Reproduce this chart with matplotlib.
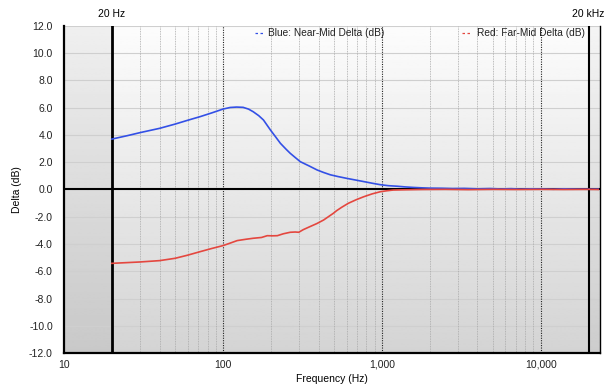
import numpy as np
import matplotlib.pyplot as plt
from matplotlib.lines import Line2D

freq_blue = [20, 25, 30, 40, 50, 60, 72, 85, 100, 111, 122, 134, 145, 155, 168,
             180, 199, 215, 230, 250, 265, 285, 307, 350, 392, 430, 474, 530, 600,
             680, 770, 870, 981, 1100, 1250, 1400, 1590, 1800, 2000, 2400, 2800,
             3300, 4000, 4800, 5600, 6500, 7500, 8700, 10000, 12000, 14000, 17000,
             20000, 23000]
delta_blue = [3.70, 3.95, 4.17, 4.49, 4.80, 5.08, 5.35, 5.62, 5.90, 6.02, 6.05, 6.03,
              5.90, 5.71, 5.42, 5.10, 4.37, 3.85, 3.39, 2.95, 2.66, 2.35, 2.04, 1.72,
              1.43, 1.25, 1.08, 0.95, 0.82, 0.70, 0.58, 0.46, 0.35, 0.28, 0.24, 0.19,
              0.15, 0.12, 0.10, 0.09, 0.07, 0.08, 0.05, 0.07, 0.04, 0.06, 0.03, 0.05,
              0.04, 0.02, 0.05, 0.03, 0.02, 0.03]

freq_red = [20, 30, 40, 50, 60, 72, 85, 100, 112, 123, 140, 155, 175, 190, 205,
            220, 240, 265, 285, 300, 320, 346, 390, 430, 495, 520, 560, 616, 690,
            770, 870, 981, 1080, 1180, 1400, 1800, 2500, 3500, 5000, 7000, 10000,
            14000, 20000, 23000]
delta_red = [-5.42, -5.32, -5.22, -5.05, -4.82, -4.56, -4.33, -4.12, -3.92, -3.75,
             -3.65, -3.58, -3.52, -3.39, -3.40, -3.39, -3.25, -3.14, -3.12, -3.14,
             -2.95, -2.77, -2.50, -2.24, -1.75, -1.55, -1.30, -1.01, -0.75, -0.53,
             -0.32, -0.16, -0.09, -0.04, -0.02, 0.0, 0.01, -0.01, 0.01, 0.0, 0.01,
             0.0, 0.01, 0.0]

y_ticks = [-12, -10, -8, -6, -4, -2, 0, 2, 4, 6, 8, 10, 12]
x_ticks = [10, 100, 1000, 10000]
x_tick_labels = ["10", "100", "1,000", "10,000"]

BLUE = "#3350e6"
RED = "#e4473f"

plt.rcParams["font.family"] = ["Liberation Sans", "DejaVu Sans"]

fig = plt.figure(figsize=(6.09, 3.88), dpi=100)
ax = fig.add_axes([0.1051, 0.0902, 0.8801, 0.8428])

ax.set_xscale("log")
ax.set_xlim(10, 23600)
ax.set_ylim(-12, 12)

# vertical gradient background, light at top
grad = np.linspace(0.99, 0.83, 256).reshape(-1, 1)
ax.imshow(grad, cmap="gray", vmin=0, vmax=1, aspect="auto", origin="upper",
          extent=[0, 1, 0, 1], transform=ax.transAxes, zorder=0)
ax.axvspan(10, 20, color="black", alpha=0.05, zorder=0.5, lw=0)
ax.axvspan(20000, 23600, color="black", alpha=0.03, zorder=0.5, lw=0)

# horizontal grid
for y in y_ticks:
    ax.axhline(y, color="#cfcfcf", lw=0.8, zorder=1)

# vertical grid
for dec in [10, 100, 1000]:
    for m in range(2, 10):
        ax.axvline(dec * m, color="#a8a8a8", lw=0.6, ls=(0, (1, 1)), zorder=1)
for f in [100, 1000, 10000]:
    ax.axvline(f, color="#222222", lw=0.8, ls=(0, (1, 1.2)), zorder=1.2)

ax.axhline(0, color="black", lw=1.5, zorder=2)
ax.axvline(20, color="black", lw=2.0, zorder=2)
ax.axvline(20000, color="black", lw=1.5, zorder=2)

ax.plot(freq_blue, delta_blue, color=BLUE, lw=1.2, zorder=3)
ax.plot(freq_red, delta_red, color=RED, lw=1.2, zorder=3)

ax.set_yticks(y_ticks)
ax.set_yticklabels([f"{v:.1f}" for v in y_ticks])
ax.set_xticks(x_ticks)
ax.set_xticklabels(x_tick_labels)
ax.minorticks_off()
ax.tick_params(axis="both", length=0, labelsize=7.5, colors="#222222")
ax.tick_params(axis="x", pad=5)
ax.tick_params(axis="y", pad=8)

ax.spines["top"].set_visible(False)
ax.spines["left"].set_linewidth(1.6)
ax.spines["bottom"].set_linewidth(1.6)
ax.spines["right"].set_linewidth(1.0)

ax.set_xlabel("Frequency (Hz)", fontsize=7.5, labelpad=3)
ax.set_ylabel("Delta (dB)", fontsize=7.5, labelpad=5)

# boundary labels
ax.text(20, 1.02, "20 Hz", transform=ax.get_xaxis_transform(),
        ha="center", va="bottom", fontsize=7.5)
ax.text(20000, 1.02, "20 kHz", transform=ax.get_xaxis_transform(),
        ha="center", va="bottom", fontsize=7.5)

# legend entries (dashed swatch + text)
ly = 1 - 33 / 388
fig.add_artist(Line2D([255 / 609, 264 / 609], [ly, ly], transform=fig.transFigure,
                      color=BLUE, lw=0.9, ls=(0, (2, 2))))
fig.text(268 / 609, ly, "Blue: Near-Mid Delta (dB)", fontsize=7.3,
         va="center", ha="left", color="#222222")
fig.add_artist(Line2D([462 / 609, 471 / 609], [ly, ly], transform=fig.transFigure,
                      color=RED, lw=0.9, ls=(0, (2, 2))))
fig.text(585 / 609, ly, "Red: Far-Mid Delta (dB)", fontsize=7.3,
         va="center", ha="right", color="#222222")

fig.savefig("out.png", dpi=100)
